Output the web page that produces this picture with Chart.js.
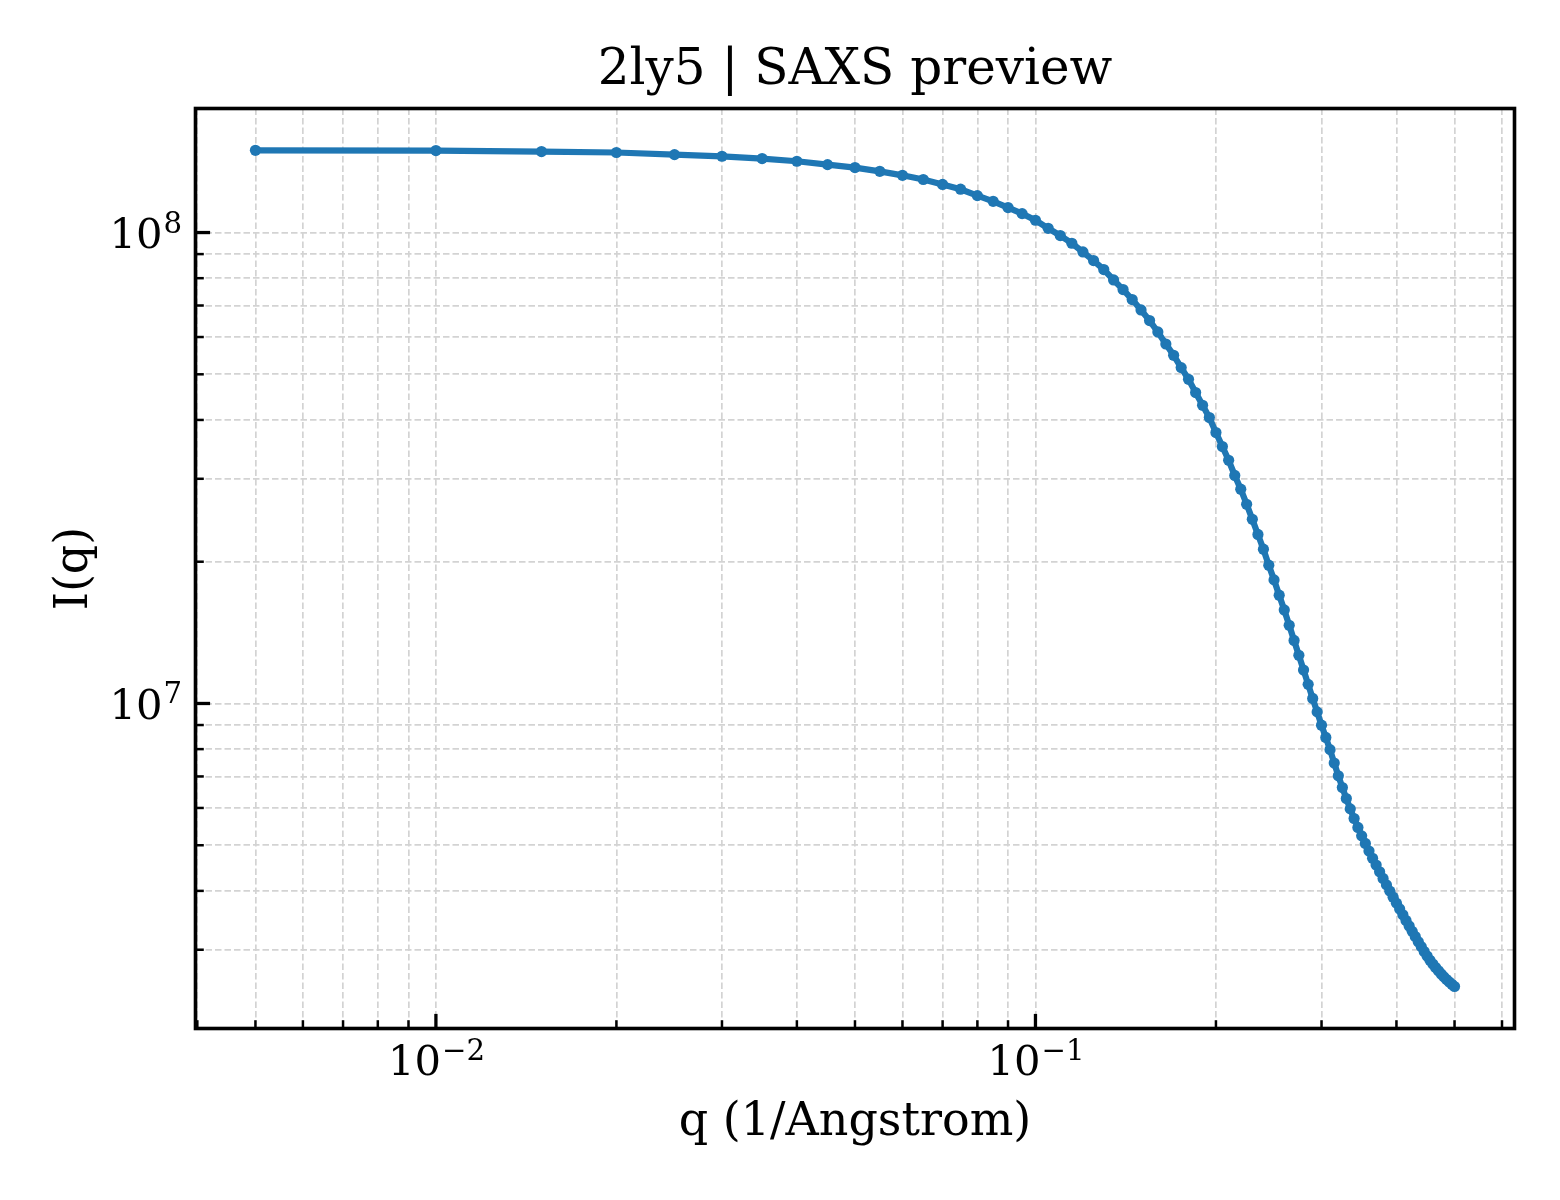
<!DOCTYPE html>
<html>
<head>
<meta charset="utf-8">
<title>2ly5 | SAXS preview</title>
<script src="https://cdn.jsdelivr.net/npm/chart.js@4.4.1/dist/chart.umd.min.js"></script>
<style>
  html, body { margin: 0; padding: 0; background: #fff; overflow: hidden; }
  canvas { display: block; }
</style>
</head>
<body>
<canvas id="grafico-saxs" width="1560" height="1200"></canvas>
<script>
// q (1/Angstrom) values of the preview curve
const qValues = [
  0.005, 0.010, 0.015, 0.020, 0.025, 0.030, 0.035, 0.040, 0.045, 0.050,
  0.055, 0.060, 0.065, 0.070, 0.075, 0.080, 0.085, 0.090, 0.095, 0.100,
  0.105, 0.110, 0.115, 0.120, 0.125, 0.130, 0.135, 0.140, 0.145, 0.150,
  0.155, 0.160, 0.165, 0.170, 0.175, 0.180, 0.185, 0.190, 0.195, 0.200,
  0.205, 0.210, 0.215, 0.220, 0.225, 0.230, 0.235, 0.240, 0.245, 0.250,
  0.255, 0.260, 0.265, 0.270, 0.275, 0.280, 0.285, 0.290, 0.295, 0.300,
  0.305, 0.310, 0.315, 0.320, 0.325, 0.330, 0.335, 0.340, 0.345, 0.350,
  0.355, 0.360, 0.365, 0.370, 0.375, 0.380, 0.385, 0.390, 0.395, 0.400,
  0.405, 0.410, 0.415, 0.420, 0.425, 0.430, 0.435, 0.440, 0.445, 0.450,
  0.455, 0.460, 0.465, 0.470, 0.475, 0.480, 0.485, 0.490, 0.495, 0.500
];

// I(q)
const intensity = [
  1.495e8, 1.493e8, 1.486e8, 1.479e8, 1.464e8, 1.452e8, 1.436e8, 1.417e8, 1.394e8, 1.374e8,
  1.349e8, 1.323e8, 1.296e8, 1.265e8, 1.236e8, 1.198e8, 1.165e8, 1.130e8, 1.097e8, 1.062e8,
  1.021e8, 9.854e7, 9.490e7, 9.095e7, 8.720e7, 8.345e7, 7.931e7, 7.568e7, 7.207e7, 6.850e7,
  6.503e7, 6.150e7, 5.799e7, 5.487e7, 5.167e7, 4.880e7, 4.573e7, 4.297e7, 4.047e7, 3.761e7,
  3.512e7, 3.285e7, 3.049e7, 2.851e7, 2.649e7, 2.461e7, 2.285e7, 2.126e7, 1.966e7, 1.830e7,
  1.698e7, 1.580e7, 1.466e7, 1.361e7, 1.266e7, 1.178e7, 1.098e7, 1.025e7, 9.597e6, 8.994e6,
  8.469e6, 7.980e6, 7.472e6, 7.022e6, 6.629e6, 6.282e6, 5.973e6, 5.699e6, 5.454e6, 5.235e6,
  5.044e6, 4.860e6, 4.692e6, 4.538e6, 4.392e6, 4.251e6, 4.119e6, 3.995e6, 3.879e6, 3.767e6,
  3.662e6, 3.559e6, 3.462e6, 3.370e6, 3.282e6, 3.200e6, 3.118e6, 3.046e6, 2.973e6, 2.909e6,
  2.849e6, 2.797e6, 2.750e6, 2.707e6, 2.665e6, 2.627e6, 2.593e6, 2.561e6, 2.533e6, 2.506e6
];

const xLimits = [0.003972, 0.6295];
const yLimits = [2.041e6, 1.834e8];
const xDecades = [-3, -2, -1, 0];
const yDecades = [6, 7, 8];
const tickMantissas = [1, 2, 3, 4, 5, 6, 7, 8, 9];

const titulo = "2ly5 | SAXS preview";
const tituloX = "q (1/Angstrom)";
const tituloY = "I(q)";

const serif = '"DejaVu Serif", "Liberation Serif", serif';

document.addEventListener("DOMContentLoaded", () => {
  renderGrafico();
});

function logTicks(decades, limits) {
  const ticks = [];
  decades.forEach(d => {
    tickMantissas.forEach(m => {
      const value = m * Math.pow(10, d);
      if (value >= limits[0] && value <= limits[1]) {
        ticks.push({ value: value, major: m === 1 });
      }
    });
  });
  return ticks;
}

function drawPower(ctx, exp, x, baseline, align) {
  const base = "10";
  const sup = exp < 0 ? "\u2212" + Math.abs(exp) : String(exp);
  ctx.font = `41.7px ${serif}`;
  const wBase = ctx.measureText(base).width;
  ctx.font = `29.2px ${serif}`;
  const wSup = ctx.measureText(sup).width;
  const total = wBase + wSup;
  const x0 = align === "center" ? x - total / 2 : x - total;
  ctx.textAlign = "left";
  ctx.textBaseline = "alphabetic";
  ctx.font = `41.7px ${serif}`;
  ctx.fillText(base, x0, baseline);
  ctx.font = `29.2px ${serif}`;
  ctx.fillText(sup, x0 + wBase + 1, baseline - 15.5);
}

const decoracao = {
  id: "decoracao",
  beforeDraw(chart) {
    const ctx = chart.ctx;
    ctx.save();
    ctx.fillStyle = "#ffffff";
    ctx.fillRect(0, 0, chart.width, chart.height);
    ctx.restore();
  },
  afterDraw(chart) {
    const { ctx, chartArea: a, scales } = chart;
    const x = scales.x;
    const y = scales.y;
    ctx.save();

    // inward tick marks, left and bottom only
    ctx.strokeStyle = "#000000";
    x.ticks.forEach(t => {
      const px = x.getPixelForValue(t.value);
      if (px < a.left + 1 || px > a.right - 1) return;
      ctx.lineWidth = t.major ? 3.3 : 2.5;
      ctx.beginPath();
      ctx.moveTo(px, a.bottom);
      ctx.lineTo(px, a.bottom - (t.major ? 14.6 : 8.3));
      ctx.stroke();
    });
    y.ticks.forEach(t => {
      const py = y.getPixelForValue(t.value);
      if (py < a.top + 1 || py > a.bottom - 1) return;
      ctx.lineWidth = t.major ? 3.3 : 2.5;
      ctx.beginPath();
      ctx.moveTo(a.left, py);
      ctx.lineTo(a.left + (t.major ? 14.6 : 8.3), py);
      ctx.stroke();
    });

    // frame
    ctx.lineWidth = 3.6;
    ctx.strokeRect(a.left, a.top, a.right - a.left, a.bottom - a.top);

    // tick labels
    ctx.fillStyle = "#000000";
    x.ticks.filter(t => t.major).forEach(t => {
      drawPower(ctx, Math.round(Math.log10(t.value)), x.getPixelForValue(t.value), 1075, "center");
    });
    y.ticks.filter(t => t.major).forEach(t => {
      drawPower(ctx, Math.round(Math.log10(t.value)), 181, y.getPixelForValue(t.value) + 15.5, "right");
    });

    // titles
    ctx.textAlign = "center";
    ctx.textBaseline = "alphabetic";
    ctx.font = `50px ${serif}`;
    ctx.fillText(titulo, (a.left + a.right) / 2, 84);
    ctx.font = `46px ${serif}`;
    ctx.fillText(tituloX, (a.left + a.right) / 2, 1135);
    ctx.translate(87, (a.top + a.bottom) / 2);
    ctx.rotate(-Math.PI / 2);
    ctx.fillText(tituloY, 0, 0);

    ctx.restore();
  }
};

function renderGrafico() {
  const canvas = document.getElementById("grafico-saxs");
  const pontos = qValues.map((q, i) => ({ x: q, y: intensity[i] }));

  const gridOpts = {
    display: true,
    drawOnChartArea: true,
    drawTicks: false,
    color: "#d3d3d3",
    lineWidth: 1.7
  };

  new Chart(canvas, {
    type: "line",
    data: {
      datasets: [{
        label: "I(q)",
        data: pontos,
        borderColor: "#1f77b4",
        backgroundColor: "#1f77b4",
        borderWidth: 6.25,
        pointRadius: 5.6,
        pointBorderWidth: 0,
        pointHoverRadius: 5.6,
        tension: 0,
        fill: false
      }]
    },
    options: {
      responsive: false,
      animation: false,
      devicePixelRatio: 1,
      layout: {
        padding: { left: 195.5, top: 108.5, right: 45.5, bottom: 171.5 }
      },
      plugins: {
        legend: { display: false },
        title: { display: false },
        tooltip: { enabled: false }
      },
      events: [],
      scales: {
        x: {
          type: "logarithmic",
          min: xLimits[0],
          max: xLimits[1],
          afterBuildTicks: scale => { scale.ticks = logTicks(xDecades, xLimits); },
          ticks: { display: false },
          grid: gridOpts,
          border: { display: false, dash: [6.5, 3] }
        },
        y: {
          type: "logarithmic",
          min: yLimits[0],
          max: yLimits[1],
          afterBuildTicks: scale => { scale.ticks = logTicks(yDecades, yLimits); },
          ticks: { display: false },
          grid: gridOpts,
          border: { display: false, dash: [6.5, 3] }
        }
      }
    },
    plugins: [decoracao]
  });
}
</script>
</body>
</html>
